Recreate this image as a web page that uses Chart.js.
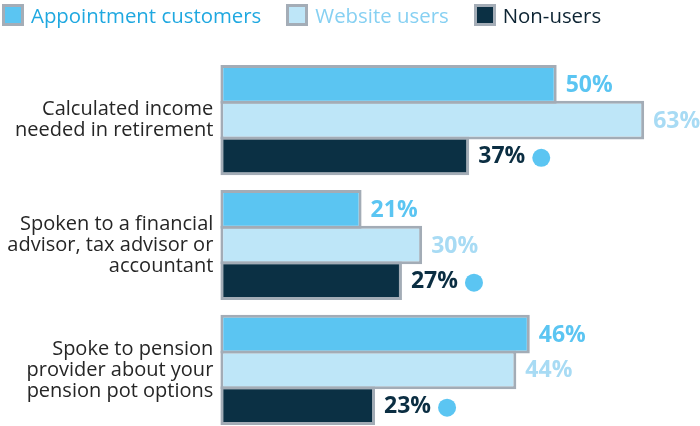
<!DOCTYPE html>
<html>
<head>
<meta charset="utf-8">
<script src="https://cdn.jsdelivr.net/npm/chart.js@4"></script>
<style>
  body { margin: 0; overflow: hidden; background: #fff; font-family: "Open Sans", sans-serif; }
  #wrap { position: relative; width: 700px; height: 426px; }
  #legend { position: absolute; left: 2px; top: 4px; display: flex; align-items: center; gap: 25px; }
  .item { display: flex; align-items: center; }
  .box { width: 16px; height: 16px; border: 3px solid #a4adb7; margin-right: 7px; }
  .item span { font-size: 20.4px; line-height: 22px; }
</style>
</head>
<body>
<div id="wrap">
  <canvas id="chart" width="700" height="440"></canvas>
  <div id="legend"></div>
</div>
<script>
const categories = [
    ['Calculated income', 'needed in retirement'],
    ['Spoken to a financial', 'advisor, tax advisor or', 'accountant'],
    ['Spoke to pension', 'provider about your', 'pension pot options']
];
const seriesNames = ['Appointment customers', 'Website users', 'Non-users'];
const appointmentCustomers = [50, 21, 46];
const websiteUsers = [63, 30, 44];
const nonUsers = [37, 27, 23];
// dot shown next to the non-user value
const nonUserMarkers = [true, true, true];

const barColors = ['#5bc5f2', '#bee6f8', '#0b3044'];
const labelColors = ['#5bc5f2', '#a8dbf4', '#0b2e42'];
const legendColors = ['#1fa8e0', '#86d0f2', '#0d2433'];
const markerColor = '#5bc5f2';
const borderGray = '#a3acb6';

const datasets = [appointmentCustomers, websiteUsers, nonUsers].map((values, i) => ({
    label: seriesNames[i],
    data: values,
    backgroundColor: barColors[i],
    borderColor: borderGray,
    borderWidth: 3,
    borderSkipped: false,
    labelColor: labelColors[i],
    markers: i === 2 ? nonUserMarkers : null
}));

const valueLabels = {
    id: 'valueLabels',
    afterDatasetsDraw(chart) {
        const ctx = chart.ctx;
        ctx.save();
        ctx.font = 'bold 23px "Open Sans"';
        ctx.textBaseline = 'middle';
        ctx.textAlign = 'left';
        chart.data.datasets.forEach((ds, i) => {
            const meta = chart.getDatasetMeta(i);
            meta.data.forEach((bar, j) => {
                const text = ds.data[j] + '%';
                const tx = bar.x + 9;
                ctx.fillStyle = ds.labelColor;
                ctx.fillText(text, tx, bar.y + 1);
                if (ds.markers && ds.markers[j]) {
                    const w = ctx.measureText(text).width;
                    ctx.beginPath();
                    ctx.arc(tx + w + 16, bar.y + 2, 9, 0, Math.PI * 2);
                    ctx.fillStyle = markerColor;
                    ctx.fill();
                }
            });
        });
        ctx.restore();
    }
};

const chart = new Chart(document.getElementById('chart'), {
    type: 'bar',
    data: {
        labels: categories,
        datasets: datasets
    },
    options: {
        indexAxis: 'y',
        responsive: false,
        animation: false,
        categoryPercentage: 0.858,
        barPercentage: 1.084,
        layout: {
            padding: { top: 57.6, bottom: 7.6, left: 0, right: 0 }
        },
        scales: {
            x: {
                display: false,
                min: 0,
                max: 71.3
            },
            y: {
                grid: { display: false, drawTicks: false },
                border: { display: false },
                ticks: {
                    color: '#262626',
                    padding: 7,
                    font: { family: 'Open Sans', size: 20, lineHeight: 1.05 }
                },
                afterFit(scale) {
                    scale.width = 220.3;
                    // multi-line labels must not squeeze the plot
                    scale.paddingTop = 0;
                    scale.paddingBottom = 0;
                }
            }
        },
        plugins: {
            legend: { display: false },
            tooltip: { enabled: false }
        }
    },
    plugins: [valueLabels]
});

// html legend built from the chart's own datasets
const legend = document.getElementById('legend');
chart.data.datasets.forEach((ds, i) => {
    legend.innerHTML += `
        <div class="item">
            <div class="box" style="background:${ds.backgroundColor}"></div>
            <span style="color:${legendColors[i]}">${ds.label}</span>
        </div>`;
});
</script>
</body>
</html>
